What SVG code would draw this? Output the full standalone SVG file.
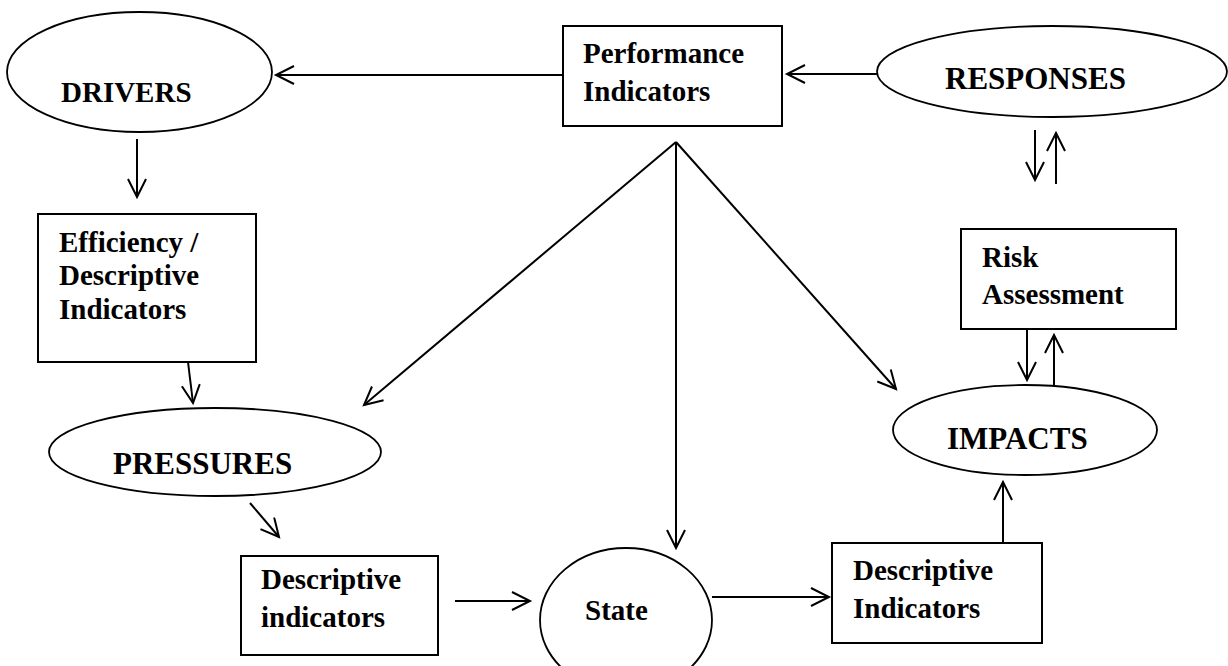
<svg xmlns="http://www.w3.org/2000/svg" width="1228" height="666" viewBox="0 0 1228 666">
<style>
.n{fill:#fff;stroke:#000;stroke-width:2}
.e{fill:#fff;stroke:#000;stroke-width:1.8}
.t{font-family:"Liberation Serif","Times New Roman",serif;font-weight:bold;font-size:29px;fill:#000}
.b{font-size:31px}
.c{fill:none;stroke:#000;stroke-width:2}
</style>
<defs>
<marker id="ah" markerWidth="22" markerHeight="22" refX="19" refY="10" orient="auto" markerUnits="userSpaceOnUse">
<path d="M1,1 L19,10 L1,19" fill="none" stroke="#000" stroke-width="2"/>
</marker>
</defs>
<rect width="1228" height="666" fill="#fff"/>
<g id="connectors">
<line class="c" x1="563" y1="75" x2="276" y2="75" marker-end="url(#ah)"/>
<line class="c" x1="877" y1="74" x2="787" y2="74" marker-end="url(#ah)"/>
<line class="c" x1="137" y1="139" x2="137" y2="197" marker-end="url(#ah)"/>
<line class="c" x1="188" y1="362" x2="193" y2="403" marker-end="url(#ah)"/>
<line class="c" x1="676" y1="142" x2="364" y2="405" marker-end="url(#ah)"/>
<line class="c" x1="676" y1="142" x2="676" y2="548" marker-end="url(#ah)"/>
<line class="c" x1="676" y1="142" x2="896" y2="389" marker-end="url(#ah)"/>
<line class="c" x1="250" y1="503" x2="279" y2="537" marker-end="url(#ah)"/>
<line class="c" x1="455" y1="601" x2="530" y2="601" marker-end="url(#ah)"/>
<line class="c" x1="712" y1="597" x2="829" y2="597" marker-end="url(#ah)"/>
<line class="c" x1="1003" y1="543" x2="1003" y2="482" marker-end="url(#ah)"/>
<line class="c" x1="1027" y1="329" x2="1027" y2="380" marker-end="url(#ah)"/>
<line class="c" x1="1054" y1="385" x2="1054" y2="335" marker-end="url(#ah)"/>
<line class="c" x1="1035" y1="130" x2="1035" y2="180" marker-end="url(#ah)"/>
<line class="c" x1="1056" y1="184" x2="1056" y2="133" marker-end="url(#ah)"/>
</g>
<g id="drivers">
<ellipse class="e" cx="139.5" cy="72" rx="132.5" ry="60"/>
<text class="t" x="61" y="102">DRIVERS</text>
</g>
<g id="performance">
<rect class="n" x="563" y="26" width="219" height="100"/>
<text class="t" x="583" y="63">Performance</text>
<text class="t" x="583" y="101">Indicators</text>
</g>
<g id="responses">
<ellipse class="e" cx="1052" cy="71.5" rx="175" ry="45.5"/>
<text class="t b" x="945" y="89">RESPONSES</text>
</g>
<g id="efficiency">
<rect class="n" x="38" y="214" width="218" height="148"/>
<text class="t" x="59" y="252">Efficiency /</text>
<text class="t" x="59" y="285">Descriptive</text>
<text class="t" x="59" y="319">Indicators</text>
</g>
<g id="pressures">
<ellipse class="e" cx="215" cy="452" rx="166" ry="44"/>
<text class="t b" x="113" y="474">PRESSURES</text>
</g>
<g id="risk">
<rect class="n" x="961" y="229" width="215" height="100"/>
<text class="t" x="982" y="267">Risk</text>
<text class="t" x="982" y="304">Assessment</text>
</g>
<g id="impacts">
<ellipse class="e" cx="1025" cy="430" rx="132" ry="45"/>
<text class="t b" x="947" y="449">IMPACTS</text>
</g>
<g id="descriptive-left">
<rect class="n" x="241" y="556" width="197" height="99"/>
<text class="t" x="261" y="589">Descriptive</text>
<text class="t" x="261" y="627">indicators</text>
</g>
<g id="state">
<ellipse class="e" cx="626" cy="620" rx="86" ry="72"/>
<text class="t" x="585" y="620">State</text>
</g>
<g id="descriptive-right">
<rect class="n" x="832" y="543" width="210" height="100"/>
<text class="t" x="853" y="580">Descriptive</text>
<text class="t" x="853" y="618">Indicators</text>
</g>
</svg>
